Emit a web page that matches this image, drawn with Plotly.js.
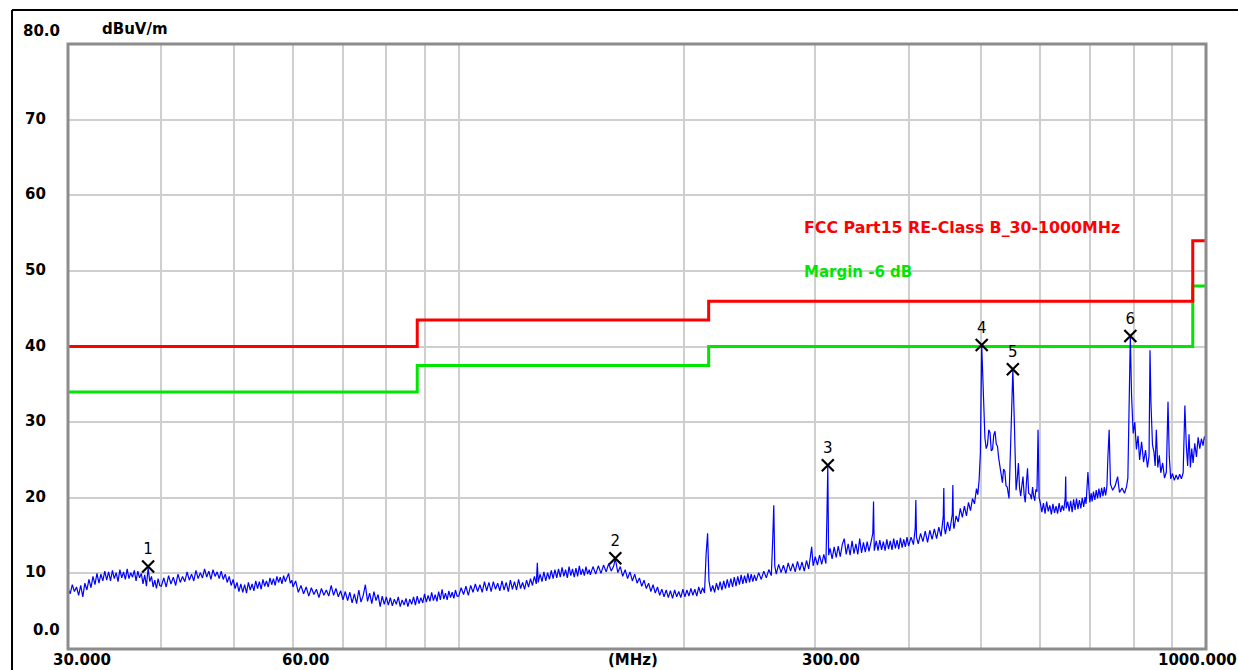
<!DOCTYPE html>
<html><head><meta charset="utf-8">
<script src="https://cdn.plot.ly/plotly-3.0.1.min.js"></script>
<style>html,body{margin:0;padding:0;background:#fff;}#chart{width:1238px;height:670px;}</style>
</head><body><div id="chart"></div>
<script>
const freqA = [30,30.2,30.4,30.6,30.8,31,31.2,31.4,31.6,31.8,32,32.2,32.4,32.6,32.8,33,33.2,33.4,33.6,33.8,34,34.2,34.4,34.6,34.8,35,35.2,35.4,35.6,35.8,36,36.2,36.4,36.6,36.8,37,37.2,37.4,37.6,37.8,38,38.2,38.4,38.6,38.8,39,39.2,39.4,39.6,39.8];
const levelA = [8.0,7.3,8.5,7.6,8.2,7.1,8.4,6.9,8.7,7.8,9.2,8.1,9.6,8.5,10.0,8.7,9.9,9.0,10.3,9.1,10.2,9.0,10.4,9.3,10.1,8.9,10.5,9.4,10.2,9.2,10.6,9.3,10.1,9.5,10.4,9.0,10.3,9.4,10.0,8.6,9.8,8.3,10.7,8.9,9.6,8.2,9.1,8.0,9.3,8.4];

const freqB = [40,40.3,40.6,40.9,41.2,41.5,41.8,42.1,42.4,42.7,43,43.3,43.6,43.9,44.2,44.5,44.8,45.1,45.4,45.7,46,46.3,46.6,46.9,47.2,47.5,47.8,48.1,48.4,48.7,49,49.3,49.6,49.9,50.2,50.5,50.8,51.1,51.4,51.7,52,52.3,52.6,52.9,53.2,53.5,53.8,54.1,54.4,54.7,55,55.3,55.6,55.9,56.2,56.5,56.8,57.1,57.4,57.7,58,58.3,58.6,58.9,59.2,59.5,59.8];
const levelB = [8.3,9.4,8.2,9.7,8.6,9.5,8.4,9.9,8.8,9.6,8.9,10.2,9.1,9.9,9.0,10.4,9.3,10.1,9.4,10.6,9.5,10.3,9.2,10.5,9.6,10.2,9.3,10.3,9.2,9.9,8.8,9.6,8.4,9.2,8.0,8.8,7.6,8.6,7.5,8.5,7.4,8.8,7.8,8.6,7.7,9.0,8.0,8.9,7.9,9.2,8.3,9.0,8.2,9.4,8.5,9.3,8.4,9.6,8.8,9.5,8.6,9.7,8.9,9.4,10.0,8.7,9.1];

const freqC = [60,60.5,61,61.5,62,62.5,63,63.5,64,64.5,65,65.5,66,66.5,67,67.5,68,68.5,69,69.5,70,70.5,71,71.5,72,72.5,73,73.5,74,74.5,75,75.5,76,76.5,77,77.5,78,78.5,79,79.5,80,80.5,81,81.5,82,82.5,83,83.5,84,84.5,85,85.5,86,86.5,87,87.5,88,88.5,89,89.5,90,90.5,91,91.5,92,92.5,93,93.5,94,94.5,95,95.5,96,96.5,97,97.5,98,98.5,99,99.5];
const levelC = [8.2,9.0,7.5,8.4,7.3,8.2,7.0,8.1,7.2,7.9,6.8,8.0,7.1,7.8,7.0,8.4,7.1,8.0,6.9,7.7,6.5,7.6,6.4,7.5,6.1,7.3,6.0,7.8,6.2,7.1,8.5,6.3,7.4,6.0,7.6,6.4,7.2,5.6,7.0,5.9,6.9,5.8,6.8,5.7,6.6,5.9,6.9,5.6,6.5,5.8,6.7,5.6,6.6,5.9,6.9,5.8,7.0,6.0,6.8,6.1,7.3,6.2,7.1,6.3,7.5,6.4,7.2,6.3,7.6,6.5,7.9,6.6,7.4,6.5,7.7,6.8,7.5,6.7,7.8,7.0];

const freqD = [100,100.75,101.5,102.25,103,103.75,104.5,105.25,106,106.75,107.5,108.25,109,109.75,110.5,111.25,112,112.75,113.5,114.25,115,115.75,116.5,117.25,118,118.75,119.5,120.25,121,121.75,122.5,123.25,124,124.75,125.5,126.25,127,127.4,127.75,128.5,129.25,130,130.75,131.5,132.25,133,133.75,134.5,135.25,136,136.75,137.5,138.25,139,139.75,140.5,141.25,142,142.75,143.5,144.25,145,145.75,146.5,147.25,148,148.75,149.5];
const levelD = [7.0,8.1,7.2,8.3,7.1,8.4,7.5,8.6,7.6,8.5,7.5,8.9,7.7,8.8,7.6,8.9,7.9,8.7,7.7,9.0,7.8,8.8,7.6,9.1,7.9,8.9,7.8,9.2,8.0,8.8,7.9,9.1,8.2,9.3,8.4,9.6,8.6,11.4,8.8,9.9,8.9,10.2,9.0,10.1,9.2,10.4,9.3,10.5,9.4,10.6,9.5,10.8,9.6,10.5,9.4,10.9,9.7,10.6,9.5,10.7,9.6,11.0,9.8,10.6,9.7,10.9,9.9,10.5];

const freqE = [150,151.25,152.5,153.75,155,156.25,157.5,158.75,160,161.25,162,163.25,164.5,165.75,167,168.25,169.5,170.75,172,173.25,174.5,175.75,177,178.25,179.5,180.75,182,183.25,184.5,185.75,187,188.25,189.5,190.75,192,193.25,194.5,195.75,197,198.25,199.5,200.75,202,203.25,204.5,205.75,207,208.25,209.5,210.75,212,213.25,214.3,215.3,216.2,217.5,218.75,220,221.25,222.5,223.75,225,226.25,227.5,228.75,230,231.25,232.5,233.75,235,236.25,237.5,238.75,240,241.25,242.5,243.75,245,246.25,247.5,248.75];
const levelE = [9.8,10.9,9.9,11.0,10.0,11.1,10.2,11.3,10.3,11.0,12.0,10.1,10.9,9.6,10.5,9.3,10.2,9.0,9.9,8.7,9.4,8.3,9.1,8.0,8.7,7.6,8.5,7.4,8.2,7.1,7.9,6.9,7.8,6.8,7.7,6.7,7.8,6.9,7.6,6.8,7.9,6.9,7.8,7.0,8.0,7.1,7.9,7.0,8.2,7.3,8.1,7.4,12.5,15.3,9.0,7.6,8.4,7.5,8.7,7.8,8.9,7.8,9.0,8.0,9.2,8.1,9.3,8.2,9.5,8.3,9.6,8.5,9.8,8.6,9.7,8.7,10.0,8.8,9.9,8.9,9.8];

const freqF = [250,252,254,256,258,260,262,263.2,264,264.8,266,268,270,272,274,276,278,280,282,284,286,288,290,292,294,296.7,298,300,302,304,306,308,310,311,311.8,312.6,314,316,318,320,322,324,326,328,330,332,334,336,338,340,342,344,346,348,350,352,354,356,358.2,359,359.8,362,364,366,368,370,372,374,376,378,380,382,384,386,388,390,392,394,396,398];
const levelF = [9.0,10.1,9.2,10.3,9.4,10.5,9.7,14.8,19.0,11.0,9.9,11.2,10.1,11.1,10.0,11.4,10.3,11.3,10.2,11.6,10.4,11.5,10.3,11.7,10.6,13.5,11.0,12.2,11.1,12.4,11.2,12.5,11.3,17.7,24.3,12.4,13.3,11.9,13.5,12.1,13.6,12.2,13.8,14.6,12.5,13.9,12.4,14.3,12.6,13.9,12.5,14.6,12.7,14.1,12.8,14.2,12.9,14.0,15.3,19.5,13.0,14.3,13.0,14.4,13.1,14.2,13.0,14.5,13.2,14.3,13.1,14.6,13.3,14.4,13.2,14.7,13.4,14.5,13.5,14.8];

const freqG = [400,403,406,408.2,409,409.8,412,415,418,421,424,427,430,433,436,439,442,445,445.8,446.6,448,451,454,457.6,458.4,459.2,460,463,466,469,472,475,478,481,484,487,490,493,495,497,499,501,503,506,508,510,512,514,516,518,520,522,524,526,528,530,532,534,536,538,540,542,545,549,551.5,554,557,559,561,563,565,567,569,571,573,575,577,579,582,584,586,588,590,592,594,596,598];
const levelG = [13.6,14.8,13.8,16.0,19.7,14.8,13.9,15.3,14.2,15.6,14.1,15.7,14.5,15.9,14.6,16.1,14.9,17.5,21.3,16.0,15.2,16.8,15.6,17.8,21.7,16.4,15.9,17.6,16.8,18.6,17.4,18.9,17.6,19.4,18.3,19.9,19.2,21.2,20.4,22.3,26.0,40.2,34.2,27.9,26.5,27.0,29.0,28.6,26.2,26.4,28.3,28.8,27.1,26.8,25.2,24.0,22.6,22.0,23.8,23.5,21.6,21.4,19.9,30.3,37.0,30.0,21.0,22.5,24.6,21.3,20.2,21.6,22.8,20.4,19.4,22.0,23.9,20.6,20.4,19.8,21.4,20.2,19.6,21.1,20.8,29.0,20.0];

const freqH = [600,603,606,609,612,615,618,621,624,627,630,633,636,639,642,645,648,649,650,653,656,659,662,665,668,671,674,677,680,683,686,689,691,695,699,702,704,707,710,713,716,719,722,725,728,731,734,737,739,742,745,750,756,761.6,766,772,778,783,786,789,792,795,799,803,807,811,815,820,825,830,835,839,841.5,844,848,852,855,858,862,866,870,875,880,885,889.5,893,897,902,907,912,917,922,927,932,937,941,945,949,953,957,961,966,971,976,981,986,991,995,1000];
const levelH = [19.4,18.1,19.3,17.9,19.5,18.2,19.0,17.8,19.2,18.0,18.9,17.9,19.3,18.1,19.0,18.3,20.0,22.8,18.6,19.5,18.2,19.6,18.1,19.8,18.4,19.9,18.5,19.7,18.6,20.0,18.8,20.1,19.2,23.4,19.4,20.6,19.5,20.8,19.7,21.0,19.9,21.2,20.0,21.3,20.2,21.4,20.3,21.6,25.2,29.0,21.8,21.0,21.6,22.8,20.7,21.3,20.6,21.5,22.6,33.4,41.4,33.6,28.5,30.0,26.4,28.2,25.0,27.4,24.7,26.3,24.0,25.5,39.5,32.5,27.0,26.0,24.2,29.0,24.0,25.6,23.3,24.6,22.6,23.4,32.7,25.5,22.5,23.2,22.3,23.0,22.4,23.1,22.5,23.3,32.2,27.0,24.2,28.4,24.0,26.5,24.6,27.2,25.4,28.0,26.5,27.8,26.9,28.1,27.4];

// ---- limits, markers, labels ----
const limitFreq = [30, 88, 216, 960, 1000];
const limitLevel = [40, 43.5, 46, 54, 54];
const marginLevel = [34, 37.5, 40, 48, 48];
const markerFreq = [38.4, 162, 311.8, 501, 551.5, 792];
const markerLevel = [10.9, 12.0, 24.3, 40.2, 37.0, 41.4];
const markerLabel = ['1', '2', '3', '4', '5', '6'];
const yTickVals = [10, 20, 30, 40, 50, 60, 70];
const yTickText = ['10', '20', '30', '40', '50', '60', '70'];
const xGridVals = [40, 50, 60, 70, 80, 90, 100, 200, 300, 400, 500, 600, 700, 800, 900];
const xLabelVals = [30, 60, 300, 1000];
const xLabelText = ['30.000', '60.00', '300.00', '1000.000'];
const limitName = 'FCC Part15 RE-Class B_30-1000MHz';
const marginName = 'Margin -6 dB';
const unitText = 'dBuV/m';
const freqUnitText = '(MHz)';

const freqMHz = [].concat(freqA, freqB, freqC, freqD, freqE, freqF, freqG, freqH);
const levelDb = [].concat(levelA, levelB, levelC, levelD, levelE, levelF, levelG, levelH);

// ---- chart ----
const FONT = 'DejaVu Sans';
const traces = [
  {x: limitFreq, y: marginLevel, mode: 'lines', line: {shape: 'hv', color: '#00e600', width: 3}, hoverinfo: 'skip'},
  {x: limitFreq, y: limitLevel, mode: 'lines', line: {shape: 'hv', color: '#ff0000', width: 3}, hoverinfo: 'skip'},
  {x: freqMHz, y: levelDb, mode: 'lines', line: {color: '#0000ff', width: 1.2}},
  {x: markerFreq, y: markerLevel, mode: 'markers+text', text: markerLabel, textposition: 'top center',
   textfont: {family: FONT, size: 15, color: '#000'},
   marker: {symbol: 'x-thin', size: 12, color: '#000', line: {width: 2.2, color: '#000'}}, cliponaxis: false}
];

const ann = [];
const bold = t => '<b>' + t + '</b>';
const blackFont = {family: FONT, size: 15, color: '#000'};
yTickVals.forEach((v, i) => ann.push({xref: 'paper', yref: 'y', x: 0, y: v, text: bold(yTickText[i]),
  xanchor: 'right', yanchor: 'middle', xshift: -20, yshift: 1, showarrow: false, font: blackFont}));
ann.push({xref: 'paper', yref: 'y', x: 0, y: 80, text: bold('80.0'), xanchor: 'right', yanchor: 'middle',
  xshift: -6, yshift: 13, showarrow: false, font: blackFont});
ann.push({xref: 'paper', yref: 'y', x: 0, y: 0, text: bold('0.0'), xanchor: 'right', yanchor: 'middle',
  xshift: -6, yshift: 19, showarrow: false, font: blackFont});
ann.push({xref: 'paper', yref: 'paper', x: 0.0281, y: 1.0248, text: bold(unitText), xanchor: 'left', yanchor: 'middle',
  showarrow: false, font: blackFont});
const xShift = {30: -17, 60: -13, 300: -15};
xLabelVals.forEach((v, i) => {
  const last = v === 1000;
  ann.push({xref: 'x', yref: 'paper', x: Math.log10(v), y: -0.0182, text: bold(xLabelText[i]),
    xanchor: last ? 'right' : 'left', xshift: last ? 33 : xShift[v], yanchor: 'middle', showarrow: false, font: blackFont});
});
ann.push({xref: 'paper', yref: 'paper', x: 0.4965, y: -0.0182, text: bold(freqUnitText), xanchor: 'center', yanchor: 'middle',
  showarrow: false, font: blackFont});
ann.push({xref: 'paper', yref: 'paper', x: 0.645, y: 0.6975, text: bold(limitName), xanchor: 'left', yanchor: 'middle',
  showarrow: false, font: {family: FONT, size: 15.8, color: '#ff0000'}});
ann.push({xref: 'paper', yref: 'paper', x: 0.645, y: 0.6231, text: bold(marginName), xanchor: 'left', yanchor: 'middle',
  showarrow: false, font: {family: FONT, size: 15, color: '#00e600'}});

const layout = {
  width: 1238, height: 670,
  margin: {l: 68, r: 32, t: 44, b: 21},
  paper_bgcolor: '#fff', plot_bgcolor: '#fff',
  showlegend: false,
  xaxis: {type: 'log', range: [Math.log10(30), 3], tickvals: xGridVals, showticklabels: false, ticks: '',
    showgrid: true, gridcolor: '#cfcfcf', gridwidth: 2, zeroline: false, showline: false, fixedrange: true},
  yaxis: {range: [0, 80], tickvals: yTickVals, showticklabels: false, ticks: '',
    showgrid: true, gridcolor: '#cfcfcf', gridwidth: 2, zeroline: false, showline: false, fixedrange: true},
  shapes: [
    {type: 'rect', xref: 'paper', yref: 'paper', x0: 0, x1: 1, y0: 0, y1: 1, line: {color: '#8c8c8c', width: 3}, layer: 'above'},
    {type: 'line', xref: 'paper', yref: 'paper', x0: -0.0492, x1: -0.0492, y0: -0.04, y1: 1.0562, line: {color: '#000', width: 2}},
    {type: 'line', xref: 'paper', yref: 'paper', x0: -0.0492, x1: 1.03, y0: 1.0562, y1: 1.0562, line: {color: '#000', width: 2}}
  ],
  annotations: ann
};
Plotly.newPlot('chart', traces, layout, {displayModeBar: false, staticPlot: true});
</script>
</body></html>
